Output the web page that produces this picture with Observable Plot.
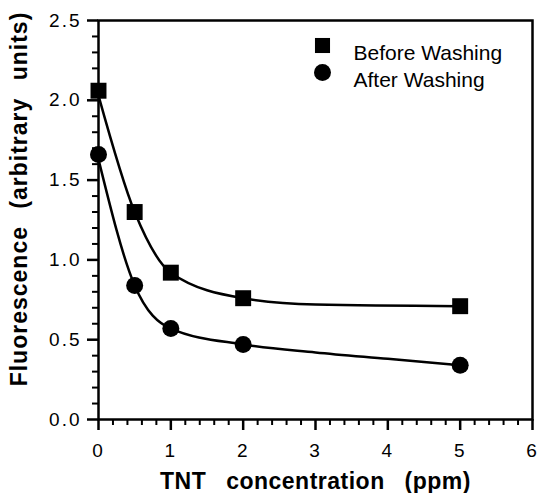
<!DOCTYPE html>
<html><head><meta charset="utf-8">
<script src="https://cdn.jsdelivr.net/npm/d3@7"></script>
<script src="https://cdn.jsdelivr.net/npm/@observablehq/plot@0.6"></script>
<style>
body{margin:0;background:#fff}
svg{font-family:"Liberation Sans",Arial,Helvetica,sans-serif}
</style>
</head><body><div id="chart"></div>
<script>
// Data
const concentration = [0, 0.5, 1, 2, 5];
const beforeWashing = [2.06, 1.30, 0.92, 0.76, 0.71];
const afterWashing = [1.66, 0.84, 0.57, 0.47, 0.34];
// Fitted curves
const beforeCurveX = [0, 0.5, 1, 2, 3, 5];
const beforeCurveY = [2.03, 1.30, 0.92, 0.76, 0.72, 0.71];
const afterCurveX = [0, 0.5, 1, 2, 3, 4, 5];
const afterCurveY = [1.63, 0.84, 0.57, 0.47, 0.42, 0.38, 0.34];
// Ticks
const xMajor = [0, 1, 2, 3, 4, 5, 6];
const xMinor = [0.2,0.4,0.6,0.8,1.2,1.4,1.6,1.8,2.2,2.4,2.6,2.8,3.2,3.4,3.6,3.8,4.2,4.4,4.6,4.8,5.2,5.4,5.6,5.8];
const yMajor = [0, 0.5, 1.0, 1.5, 2.0, 2.5];
const yMinor = [0.1,0.2,0.3,0.4,0.6,0.7,0.8,0.9,1.1,1.2,1.3,1.4,1.6,1.7,1.8,1.9,2.1,2.2,2.3,2.4];
const seriesNames = ["Before Washing", "After Washing"];
const xLabel = "TNT concentration (ppm)";
const yLabel = "Fluorescence (arbitrary units)";

const before = concentration.map((x, i) => ({x, y: beforeWashing[i]}));
const after = concentration.map((x, i) => ({x, y: afterWashing[i]}));
const beforeCurve = beforeCurveX.map((x, i) => ({x, y: beforeCurveY[i]}));
const afterCurve = afterCurveX.map((x, i) => ({x, y: afterCurveY[i]}));

const chart = Plot.plot({
  width: 540, height: 493,
  marginLeft: 98, marginRight: 8, marginTop: 20, marginBottom: 74,
  x: {domain: [0, 6]},
  y: {domain: [0, 2.5]},
  style: {fontFamily: '"Liberation Sans", Arial, sans-serif', color: "#000", background: "#fff"},
  marks: [
    Plot.axisX({ticks: xMinor, tickSize: 6, tickFormat: () => "", strokeWidth: 2, label: null}),
    Plot.axisX({ticks: xMajor, tickSize: 11, tickPadding: 13, strokeWidth: 2.5, fontSize: 19, tickFormat: d3.format("d"), label: null}),
    Plot.axisY({ticks: yMinor, tickSize: 6, tickFormat: () => "", strokeWidth: 2, label: null}),
    Plot.axisY({ticks: yMajor, tickSize: 11, tickPadding: 6, strokeWidth: 2.5, fontSize: 19, tickFormat: d3.format(".1f"), label: null}),
    Plot.frame({stroke: "#000", strokeWidth: 2.5}),
    Plot.line(beforeCurve, {x: "x", y: "y", curve: "monotone-x", stroke: "#000", strokeWidth: 2.5}),
    Plot.line(afterCurve, {x: "x", y: "y", curve: "monotone-x", stroke: "#000", strokeWidth: 2.5}),
    Plot.dot(before, {x: "x", y: "y", symbol: "square", r: 9, fill: "#000"}),
    Plot.dot(after, {x: "x", y: "y", symbol: "circle", r: 8.5, fill: "#000"}),
    Plot.dot([seriesNames[0]], {frameAnchor: "top-left", dx: 224, dy: 25, symbol: "square", r: 8.5, fill: "#000"}),
    Plot.dot([seriesNames[1]], {frameAnchor: "top-left", dx: 224, dy: 52, symbol: "circle", r: 8.5, fill: "#000"}),
    Plot.text([seriesNames[0]], {text: d => d, frameAnchor: "top-left", dx: 255, dy: 25, textAnchor: "start", fontSize: 21, fill: "#000"}),
    Plot.text([seriesNames[1]], {text: d => d, frameAnchor: "top-left", dx: 255, dy: 52, textAnchor: "start", fontSize: 21, fill: "#000"}),
    Plot.text([xLabel], {text: d => d, frameAnchor: "bottom", dy: 69, fontSize: 23, fontWeight: "bold", fill: "#000", className: "xlab"}),
    Plot.text([yLabel], {text: d => d, frameAnchor: "left", textAnchor: "middle", dx: -79, dy: -21, rotate: -90, fontSize: 23, fontWeight: "bold", fill: "#000", className: "ylab"})
  ]
});
document.getElementById("chart").appendChild(chart);
const svg = d3.select(chart);
svg.selectAll('g[aria-label="x-axis tick label"] text, g[aria-label="y-axis tick label"] text').style("letter-spacing", "2px");
svg.selectAll(".xlab text").style("letter-spacing", "0.5px").style("word-spacing", "13px");
svg.selectAll(".ylab text").style("letter-spacing", "1px").style("word-spacing", "10px");
</script>
</body></html>
